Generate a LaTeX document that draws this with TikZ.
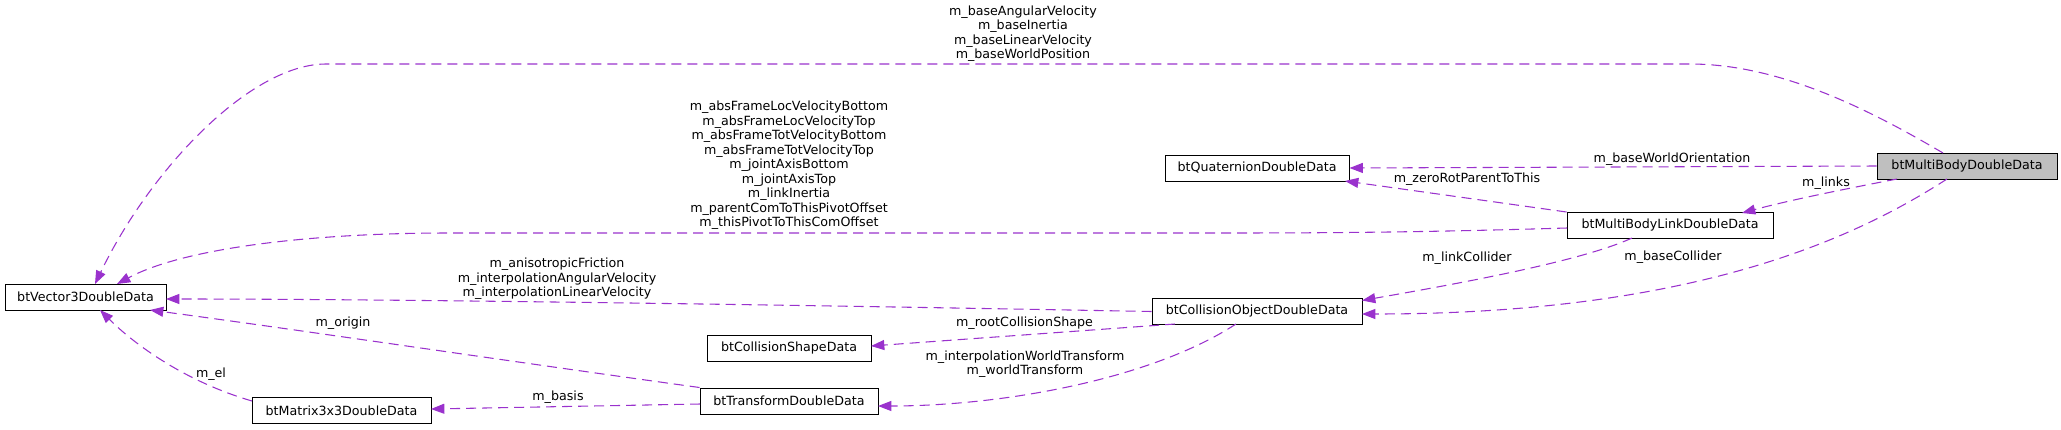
\documentclass[tikz,border=0pt]{standalone}
\usepackage{fontspec}
\setmainfont{DejaVu Sans}
\usetikzlibrary{arrows.meta,calc}
\definecolor{edgec}{HTML}{9A32CD}
\definecolor{grey75}{HTML}{BFBFBF}
\begin{document}
\begin{tikzpicture}[x=0.75pt,y=-0.75pt,
  cls/.style={draw=black,line width=0.75pt,rectangle,inner sep=0pt,minimum height=19.5pt,font=\fontsize{9.5pt}{11pt}\selectfont},
  lbl/.style={inner sep=0pt,align=center,font=\fontsize{9.5pt}{10.9pt}\selectfont},
  rel/.style={draw=edgec,line width=0.8pt,dash pattern=on 7.5pt off 4.5pt,-{Triangle[length=10pt,width=7.5pt,fill=edgec]}}]
\useasboundingbox (0,0) rectangle (2061,429);
% classes
\node[cls,minimum width=120.75pt] (v3) at (85.5,297) {btVector3DoubleData};
\node[cls,minimum width=134.25pt] (mat) at (341.5,410.5) {btMatrix3x3DoubleData};
\node[cls,minimum width=123pt] (cs) at (789,348) {btCollisionShapeData};
\node[cls,minimum width=133.5pt] (tr) at (789,401) {btTransformDoubleData};
\node[cls,minimum width=157.5pt] (co) at (1257,311.5) {btCollisionObjectDoubleData};
\node[cls,minimum width=138pt] (q) at (1257,168) {btQuaternionDoubleData};
\node[cls,minimum width=154.5pt] (lk) at (1670,225.5) {btMultiBodyLinkDoubleData};
\node[cls,minimum width=135pt,fill=grey75] (mb) at (1967,166) {btMultiBodyDoubleData};
% edges
\draw[rel] ($(mb)+(-24,-13)$) .. controls (1870,110) and (1780,64) .. (1690,64) -- (326,64) .. controls (250,64) and (150,170) .. ($(v3)+(9.5,-13)$);
\draw[rel] (mb.west) -- (q.east);
\draw[rel] ($(mb)+(-70,13)$) .. controls (1850,188) and (1790,200) .. ($(lk)+(72,-12.5)$);
\draw[rel] ($(mb)+(-20,13)$) .. controls (1860,235) and (1700,314) .. ($(co)+(105,2.5)$);
\draw[rel] (lk.north west) -- ($(q)+(88,13)$);
\draw[rel] ($(lk)+(-103,2.5)$) .. controls (1400,233) and (1300,233) .. (1200,233) -- (450,233) .. controls (300,233) and (180,250) .. ($(v3)+(31.5,-13)$);
\draw[rel] ($(lk)+(-38,12.5)$) .. controls (1580,262) and (1450,285) .. ($(co)+(105,-11)$);
\draw[rel] (co.west) .. controls (800,305) and (400,299) .. ($(v3)+(80.5,2)$);
\draw[rel] ($(co)+(-82,12.5)$) -- ($(cs)+(82,-2)$);
\draw[rel] ($(co)+(-21,12.5)$) .. controls (1150,380) and (1000,406) .. ($(tr)+(89,5)$);
\draw[rel] (tr.north west) .. controls (500,360) and (300,330) .. ($(v3)+(64.5,13)$);
\draw[rel] ($(tr)+(-89,3)$) -- ($(mat)+(89.5,-1.5)$);
\draw[rel] ($(mat)+(-89.5,-9.5)$) .. controls (180,380) and (130,340) .. ($(v3)+(14.5,13)$);
% labels
\node[lbl] (l1) at (1023,33.5) {m\_baseAngularVelocity\\m\_baseInertia\\m\_baseLinearVelocity\\m\_baseWorldPosition};
\node[lbl] (l2) at (789,165.5) {m\_absFrameLocVelocityBottom\\m\_absFrameLocVelocityTop\\m\_absFrameTotVelocityBottom\\m\_absFrameTotVelocityTop\\m\_jointAxisBottom\\m\_jointAxisTop\\m\_linkInertia\\m\_parentComToThisPivotOffset\\m\_thisPivotToThisComOffset};
\node[lbl] (l3) at (1672,159) {m\_baseWorldOrientation};
\node[lbl] (l4) at (1826,183) {m\_links};
\node[lbl] (l5) at (1467,179) {m\_zeroRotParentToThis};
\node[lbl] (l6) at (1467,258) {m\_linkCollider};
\node[lbl] (l7) at (1673,257) {m\_baseCollider};
\node[lbl] (l8) at (557,279) {m\_anisotropicFriction\\m\_interpolationAngularVelocity\\m\_interpolationLinearVelocity};
\node[lbl] (l9) at (1024.5,323) {m\_rootCollisionShape};
\node[lbl] (l10) at (1025,364) {m\_interpolationWorldTransform\\m\_worldTransform};
\node[lbl] (l11) at (343,323) {m\_origin};
\node[lbl] (l12) at (558,397) {m\_basis};
\node[lbl] (l13) at (211,374) {m\_el};
\end{tikzpicture}
\end{document}
